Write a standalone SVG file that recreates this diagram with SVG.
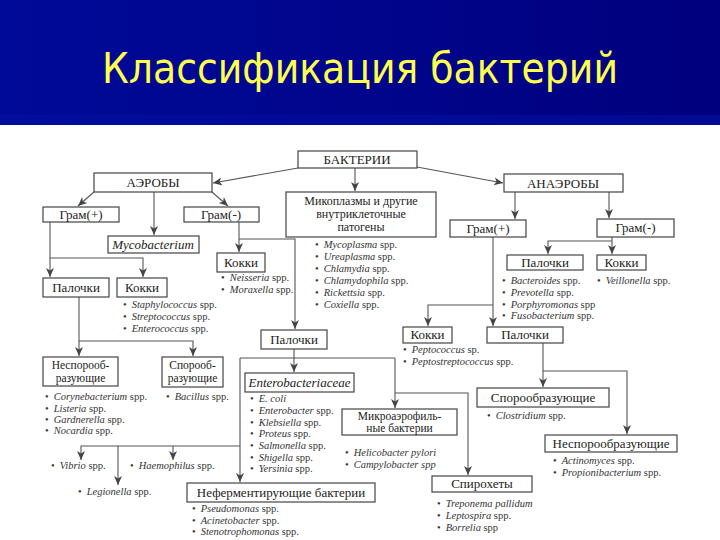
<svg xmlns="http://www.w3.org/2000/svg" width="720" height="540" viewBox="0 0 720 540">
<defs>
<linearGradient id="band" x1="0" y1="0" x2="1" y2="0">
<stop offset="0" stop-color="#000a98"/>
<stop offset="1" stop-color="#00007e"/>
</linearGradient>
<marker id="ah" markerUnits="userSpaceOnUse" markerWidth="10" markerHeight="10" viewBox="0 0 10 8" refX="9" refY="4" orient="auto">
<path d="M0,0 L9,4 L0,8 L2.5,4 z" fill="#444"/>
</marker>
</defs>
<style>
.bx{fill:#fff;stroke:#444;stroke-width:1.2}
.lb{font-family:"Liberation Serif","Times New Roman",serif;font-size:13px;fill:#222;text-anchor:middle}
.sm{font-size:11.5px}
.md{font-size:12px}
.t{font-family:"Liberation Serif","Times New Roman",serif;font-size:10.5px;fill:#333}
.i{font-style:italic}
.c path{fill:none;stroke:#555;stroke-width:1.1;marker-end:url(#ah)}
.c path.n{marker-end:none}
</style>
<rect x="0" y="0" width="720" height="540" fill="#fff"/>
<rect x="0" y="0" width="720" height="125" fill="url(#band)"/>
<rect x="0" y="115" width="720" height="10" fill="#0010a0" opacity="0.6"/>
<text x="360" y="83" font-family="DejaVu Sans, Verdana, sans-serif" font-size="42" fill="#ffff4d" text-anchor="middle" textLength="516" lengthAdjust="spacingAndGlyphs">Классификация бактерий</text>

<g id="connectors" class="c">
<path d="M298,168 L213,183"/>
<path d="M355,168 L355,191"/>
<path d="M417,167 L503,183"/>
<path d="M94,192 L78,206"/>
<path d="M154,192 L154,235"/>
<path d="M212,192 L228,206"/>
<path d="M50,222 L50,277"/>
<path d="M50,258 L143,258 L143,277"/>
<path d="M79,297 L79,356"/>
<path d="M79,341 L193,341 L193,356"/>
<path d="M239,222 L239,252"/>
<path d="M239,239 L295,239 L295,329"/>
<path d="M294,349 L294,372"/>
<path class="n" d="M240,358 L395,358"/>
<path d="M395,358 L395,408"/>
<path d="M395,393 L468,393 L468,475"/>
<path d="M240,358 L240,482"/>
<path d="M240,446 L81,446 L81,460"/>
<path d="M118,446 L118,485"/>
<path d="M173,446 L173,460"/>
<path d="M515,192 L515,219"/>
<path d="M609,192 L609,218"/>
<path d="M612,237 L612,254"/>
<path d="M612,241 L548,241 L548,254"/>
<path d="M493,237 L493,326"/>
<path d="M493,305 L428,305 L428,326"/>
<path d="M543,343 L543,387"/>
<path d="M543,371 L627,371 L627,434"/>
</g>

<g id="bacteria"><rect class="bx" x="298" y="151" width="119" height="17"/><text class="lb" x="357" y="164">БАКТЕРИИ</text></g>
<g id="aerobes"><rect class="bx" x="94" y="173" width="118" height="19"/><text class="lb" x="153" y="187">АЭРОБЫ</text></g>
<g id="anaerobes"><rect class="bx" x="504" y="174" width="119" height="18"/><text class="lb" x="563" y="188">АНАЭРОБЫ</text></g>

<g id="mycoplasma"><rect class="bx" x="286" y="192" width="150" height="45"/>
<text class="lb md" x="361" y="205">Микоплазмы и другие</text>
<text class="lb md" x="361" y="218">внутриклеточные</text>
<text class="lb md" x="361" y="231">патогены</text>
<text class="t" x="315" y="248">•<tspan dx="5" class="i">Mycoplasma</tspan> spp.</text>
<text class="t" x="315" y="260">•<tspan dx="5" class="i">Ureaplasma</tspan> spp.</text>
<text class="t" x="315" y="272">•<tspan dx="5" class="i">Chlamydia</tspan> spp.</text>
<text class="t" x="315" y="284">•<tspan dx="5" class="i">Chlamydophila</tspan> spp.</text>
<text class="t" x="315" y="296">•<tspan dx="5" class="i">Rickettsia</tspan> spp.</text>
<text class="t" x="315" y="308">•<tspan dx="5" class="i">Coxiella</tspan> spp.</text>
</g>

<g id="gpos-aer"><rect class="bx" x="43" y="207" width="76" height="15"/><text class="lb" x="81" y="219">Грам(+)</text></g>
<g id="gneg-aer"><rect class="bx" x="184" y="207" width="75" height="15"/><text class="lb" x="221" y="219">Грам(-)</text></g>
<g id="mycobacterium"><rect class="bx" x="108" y="236" width="91" height="17"/><text class="lb i" x="153" y="249">Mycobacterium</text></g>

<g id="rods-gpos-aer"><rect class="bx" x="43" y="278" width="66" height="19"/><text class="lb" x="76" y="292">Палочки</text></g>
<g id="cocci-gpos-aer"><rect class="bx" x="117" y="278" width="50" height="19"/><text class="lb" x="142" y="292">Кокки</text>
<text class="t" x="123" y="308">•<tspan dx="5" class="i">Staphylococcus</tspan> spp.</text>
<text class="t" x="123" y="320">•<tspan dx="5" class="i">Streptococcus</tspan> spp.</text>
<text class="t" x="123" y="332">•<tspan dx="5" class="i">Enterococcus</tspan> spp.</text>
</g>

<g id="cocci-gneg-aer"><rect class="bx" x="217" y="253" width="48" height="19"/><text class="lb" x="241" y="267">Кокки</text>
<text class="t" x="221" y="281">•<tspan dx="5" class="i">Neisseria</tspan> spp.</text>
<text class="t" x="221" y="293">•<tspan dx="5" class="i">Moraxella</tspan> spp.</text>
</g>
<g id="rods-gneg-aer"><rect class="bx" x="261" y="330" width="66" height="19"/><text class="lb" x="294" y="344">Палочки</text></g>

<g id="nonspore-aer"><rect class="bx" x="43" y="357" width="75" height="29"/>
<text class="lb sm" x="80.5" y="369">Неспорооб-</text><text class="lb sm" x="80.5" y="382">разующие</text>
<text class="t" x="45" y="400">•<tspan dx="5" class="i">Corynebacterium</tspan> spp.</text>
<text class="t" x="45" y="412">•<tspan dx="5" class="i">Listeria</tspan> spp.</text>
<text class="t" x="45" y="423">•<tspan dx="5" class="i">Gardnerella</tspan> spp.</text>
<text class="t" x="45" y="434">•<tspan dx="5" class="i">Nocardia</tspan> spp.</text>
</g>
<g id="spore-aer"><rect class="bx" x="162" y="357" width="61" height="30"/>
<text class="lb sm" x="192.5" y="369">Спорооб-</text><text class="lb sm" x="192.5" y="382">разующие</text>
<text class="t" x="166" y="400">•<tspan dx="5" class="i">Bacillus</tspan> spp.</text>
</g>

<g id="enterobacteriaceae"><rect class="bx" x="245" y="373" width="109" height="19"/><text class="lb i" x="299.5" y="387">Enterobacteriaceae</text>
<text class="t" x="250" y="402">•<tspan dx="5" class="i">E. coli</tspan></text>
<text class="t" x="250" y="414">•<tspan dx="5" class="i">Enterobacter</tspan> spp.</text>
<text class="t" x="250" y="426">•<tspan dx="5" class="i">Klebsiella</tspan> spp.</text>
<text class="t" x="250" y="437">•<tspan dx="5" class="i">Proteus</tspan> spp.</text>
<text class="t" x="250" y="449">•<tspan dx="5" class="i">Salmonella</tspan> spp.</text>
<text class="t" x="250" y="461">•<tspan dx="5" class="i">Shigella</tspan> spp.</text>
<text class="t" x="250" y="472">•<tspan dx="5" class="i">Yersinia</tspan> spp.</text>
</g>

<g id="microaerophilic"><rect class="bx" x="342" y="409" width="115" height="26"/>
<text class="lb sm" x="399.5" y="420">Микроаэрофиль-</text><text class="lb sm" x="399.5" y="432">ные бактерии</text>
<text class="t" x="345" y="456">•<tspan dx="5" class="i">Helicobacter pylori</tspan></text>
<text class="t" x="345" y="468">•<tspan dx="5" class="i">Campylobacter spp</tspan></text>
</g>

<g id="spirochetes"><rect class="bx" x="432" y="476" width="100" height="16"/><text class="lb" x="482" y="488">Спирохеты</text>
<text class="t" x="437" y="507">•<tspan dx="5" class="i">Treponema pallidum</tspan></text>
<text class="t" x="437" y="519">•<tspan dx="5" class="i">Leptospira</tspan> spp.</text>
<text class="t" x="437" y="531">•<tspan dx="5" class="i">Borrelia</tspan> spp</text>
</g>

<g id="nonfermenting"><rect class="bx" x="187" y="483" width="188" height="19"/><text class="lb" x="281" y="497">Неферментирующие бактерии</text>
<text class="t" x="192" y="512">•<tspan dx="5" class="i">Pseudomonas</tspan> spp.</text>
<text class="t" x="192" y="524">•<tspan dx="5" class="i">Acinetobacter</tspan> spp.</text>
<text class="t" x="192" y="535">•<tspan dx="5" class="i">Stenotrophomonas</tspan> spp.</text>
</g>

<g id="vibrio"><text class="t" x="51" y="469">•<tspan dx="5" class="i">Vibrio</tspan> spp.</text></g>
<g id="haemophilus"><text class="t" x="130" y="469">•<tspan dx="5" class="i">Haemophilus</tspan> spp.</text></g>
<g id="legionella"><text class="t" x="78" y="495">•<tspan dx="5" class="i">Legionella</tspan> spp.</text></g>

<g id="gpos-an"><rect class="bx" x="450" y="220" width="76" height="17"/><text class="lb" x="488" y="233">Грам(+)</text></g>
<g id="gneg-an"><rect class="bx" x="597" y="219" width="77" height="18"/><text class="lb" x="635.5" y="232">Грам(-)</text></g>

<g id="rods-gneg-an"><rect class="bx" x="507" y="255" width="76" height="15"/><text class="lb" x="545" y="267">Палочки</text>
<text class="t" x="502" y="284">•<tspan dx="5" class="i">Bacteroides</tspan> spp.</text>
<text class="t" x="502" y="296">•<tspan dx="5" class="i">Prevotella</tspan> spp.</text>
<text class="t" x="502" y="308">•<tspan dx="5" class="i">Porphyromonas</tspan> spp</text>
<text class="t" x="502" y="319">•<tspan dx="5" class="i">Fusobacterium</tspan> spp.</text>
</g>
<g id="cocci-gneg-an"><rect class="bx" x="597" y="255" width="49" height="15"/><text class="lb" x="621.5" y="267">Кокки</text>
<text class="t" x="597" y="284">•<tspan dx="5" class="i">Veillonella</tspan> spp.</text>
</g>

<g id="cocci-gpos-an"><rect class="bx" x="403" y="327" width="49" height="16"/><text class="lb" x="427.5" y="339">Кокки</text>
<text class="t" x="403" y="353">•<tspan dx="5" class="i">Peptococcus</tspan> sp.</text>
<text class="t" x="403" y="365">•<tspan dx="5" class="i">Peptostreptococcus</tspan> spp.</text>
</g>
<g id="rods-gpos-an"><rect class="bx" x="487" y="327" width="76" height="16"/><text class="lb" x="525" y="339">Палочки</text></g>

<g id="spore-an"><rect class="bx" x="477" y="388" width="132" height="19"/><text class="lb" x="543" y="402">Спорообразующие</text>
<text class="t" x="487" y="419">•<tspan dx="5" class="i">Clostridium</tspan> spp.</text>
</g>
<g id="nonspore-an"><rect class="bx" x="545" y="435" width="132" height="17"/><text class="lb" x="611" y="448">Неспорообразующие</text>
<text class="t" x="553" y="464">•<tspan dx="5" class="i">Actinomyces</tspan> spp.</text>
<text class="t" x="553" y="476">•<tspan dx="5" class="i">Propionibacterium</tspan> spp.</text>
</g>
</svg>
